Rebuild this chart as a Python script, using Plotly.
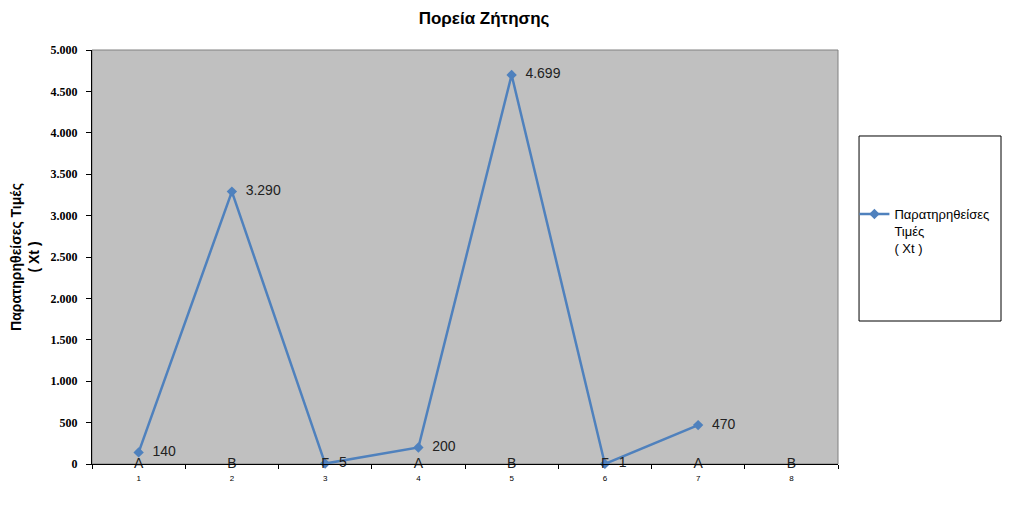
import plotly.graph_objects as go

# periods on the x axis
periods = ["1", "2", "3", "4", "5", "6", "7", "8"]
# season letters drawn on the axis line
seasons = ["A", "B", "Γ", "A", "B", "Γ", "A", "B"]
# observed values (Xt), period 8 empty
observed = [140, 3290, 5, 200, 4699, 1, 470, None]

blue = "#4F81BD"


def fmt(v):
    # greek style thousands separator
    return "" if v is None else f"{v:,}".replace(",", ".")


fig = go.Figure()

fig.add_trace(go.Scatter(
    x=periods, y=observed,
    mode="lines+markers+text",
    name="Παρατηρηθείσες<br>Τιμές<br>( Xt )",
    line=dict(color=blue, width=2.5),
    marker=dict(symbol="diamond", size=8, color=blue),
    text=["  " + fmt(v) for v in observed],
    textposition="middle right",
    textfont=dict(family="Liberation Sans, Arial", size=14, color="#222222"),
    cliponaxis=False,
))

# season letters sitting on the x axis line
fig.add_trace(go.Scatter(
    x=periods, y=[0] * len(periods),
    mode="text", text=seasons, textposition="middle center",
    textfont=dict(family="Liberation Sans, Arial", size=14, color="#222222"),
    showlegend=False, hoverinfo="skip", cliponaxis=False,
))

# page is drawn with an 8px offset, so the figure is a bit smaller
fig.update_layout(
    width=1015, height=508,
    margin=dict(l=84, r=185, t=42, b=52, autoexpand=False),
    paper_bgcolor="white",
    plot_bgcolor="#C0C0C0",
    separators=",.",
    title=dict(text="<b>Πορεία Ζήτησης</b>", x=0.469, xanchor="center", y=0.98, yanchor="middle",
               font=dict(family="Liberation Sans, Arial", size=17, color="black")),
    legend=dict(x=1.022, xanchor="left", y=0.64, yanchor="top", valign="top",
                bgcolor="rgba(0,0,0,0)", itemwidth=30,
                font=dict(family="Liberation Sans, Arial", size=13, color="black")),
    showlegend=True,
)

fig.update_xaxes(
    type="category", range=[-0.5, 7.5], automargin=False,
    tickson="boundaries", ticks="outside", ticklen=4, tickcolor="black",
    showline=True, linecolor="black", linewidth=1,
    showgrid=False, zeroline=False,
    tickfont=dict(family="Liberation Sans, Arial", size=8, color="black"),
    ticklabelstandoff=6,
)

fig.update_yaxes(
    range=[0, 5000], dtick=500, tickformat=",d", automargin=False,
    ticks="outside", ticklen=5, tickcolor="black",
    showline=True, linecolor="black", linewidth=1,
    showgrid=False, zeroline=False,
    tickfont=dict(family="Liberation Serif, Times New Roman", size=12, color="black", weight="bold"),
    ticklabelstandoff=6,
    title=dict(text="<b>Παρατηρηθείσες Τιμές<br>( Xt )</b>", standoff=12,
               font=dict(family="Liberation Sans, Arial", size=14, color="black")),
)

# plot area frame and legend box
fig.add_shape(type="rect", xref="paper", yref="paper", x0=0, x1=1, y0=0, y1=1,
              line=dict(color="#808080", width=1), layer="below")
fig.add_shape(type="rect", xref="paper", yref="paper", x0=1.0282, x1=1.2185, y0=0.3454, y1=0.7923,
              line=dict(color="black", width=1), fillcolor="white", layer="below")

fig.write_html("out.html")
